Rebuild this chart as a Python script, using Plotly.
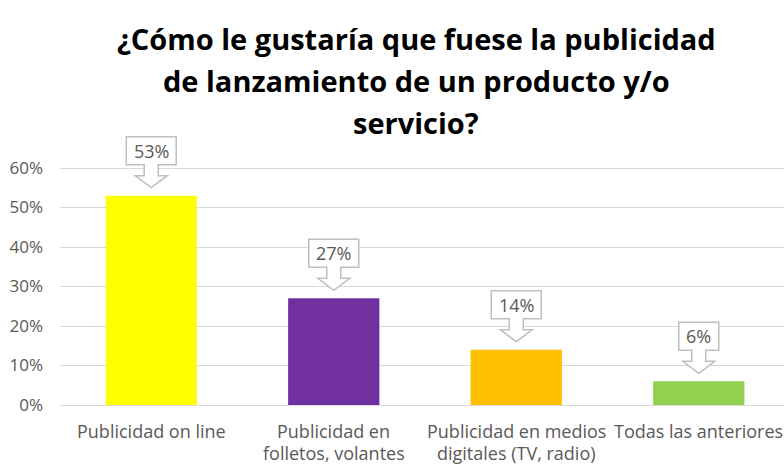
import plotly.graph_objects as go

# Survey results: preferred advertising format for a product/service launch
categories = [
    ["Publicidad on line"],
    ["Publicidad en", "folletos, volantes"],
    ["Publicidad en medios", "digitales (TV, radio)"],
    ["Todas las anteriores"],
]
values = [0.53, 0.27, 0.14, 0.06]
bar_colors = ["#FFFF00", "#7030A0", "#FFC000", "#92D050"]
tick_values = [0, 0.1, 0.2, 0.3, 0.4, 0.5, 0.6]
title_lines = [
    "¿Cómo le gustaría que fuese la publicidad",
    "de lanzamiento de un producto y/o",
    "servicio?",
]

FONT = "Open Sans"
GRAY = "#595959"
x = list(range(len(values)))

# Geometry in pixels: the value axis spans 0..60% over 237 px, and the
# plotting area is extended upward so the callouts are not clipped.
axis_bottom = 405
px_per_unit = 237 / 0.6
plot_top = 120
plot_h = axis_bottom - plot_top
y_max = plot_h / px_per_unit

fig = go.Figure(
    go.Bar(
        x=x,
        y=values,
        width=0.5,
        marker=dict(color=bar_colors, line=dict(width=0)),
        hoverinfo="skip",
    )
)

shapes = []
annotations = []

# Callout boxes (pixel-sized, anchored to each bar's top)
for xi, v in zip(x, values):
    label = f"{round(v * 100)}%"
    hw = 25 if len(label) > 2 else 20
    path = (
        f"M {-hw},59 L {hw},59 L {hw},31 L 7,31 L 7,20 L 16,20 L 0,8 "
        f"L -16,20 L -7,20 L -7,31 L {-hw},31 Z"
    )
    shapes.append(dict(
        type="path", xref="x", yref="y",
        xsizemode="pixel", ysizemode="pixel",
        xanchor=xi, yanchor=v, path=path,
        fillcolor="white", line=dict(color="#BFBFBF", width=1.5),
        layer="above",
    ))
    annotations.append(dict(
        x=xi, y=v, xref="x", yref="y", text=label, showarrow=False,
        yshift=45, yanchor="middle",
        font=dict(family=FONT, size=18, color=GRAY),
    ))

# Category labels, one annotation per line
for xi, lines in zip(x, categories):
    for j, line in enumerate(lines):
        annotations.append(dict(
            x=xi, y=0, xref="x", yref="y", text=line, showarrow=False,
            yanchor="middle", yshift=-26 - 22 * j, borderpad=0,
            font=dict(family=FONT, size=18, color=GRAY),
        ))

# Title, one line per annotation
for j, line in enumerate(title_lines):
    ypix = 38 + 42 * j
    annotations.append(dict(
        x=(416 - 60) / 724, y=(axis_bottom - ypix) / plot_h,
        xref="paper", yref="paper", text=f"<b>{line}</b>", showarrow=False,
        xanchor="center", yanchor="middle",
        font=dict(family=FONT, size=29, color="#000000"),
    ))

fig.update_layout(
    width=784, height=466,
    margin=dict(l=60, r=0, t=plot_top, b=466 - axis_bottom),
    paper_bgcolor="white", plot_bgcolor="white",
    showlegend=False,
    shapes=shapes,
    annotations=annotations,
    xaxis=dict(
        range=[-0.5, 3.467], showticklabels=False, showgrid=False,
        zeroline=False, showline=False, fixedrange=True,
    ),
    yaxis=dict(
        range=[0, y_max], tickmode="array", tickvals=tick_values,
        tickformat=".0%",
        showgrid=True, gridcolor="#D9D9D9", gridwidth=1,
        zeroline=True, zerolinecolor="#D9D9D9", zerolinewidth=1,
        showline=False, ticks="", ticklabelstandoff=16,
        tickfont=dict(family=FONT, size=17, color=GRAY),
        fixedrange=True,
    ),
)

fig.write_html("out.html")
